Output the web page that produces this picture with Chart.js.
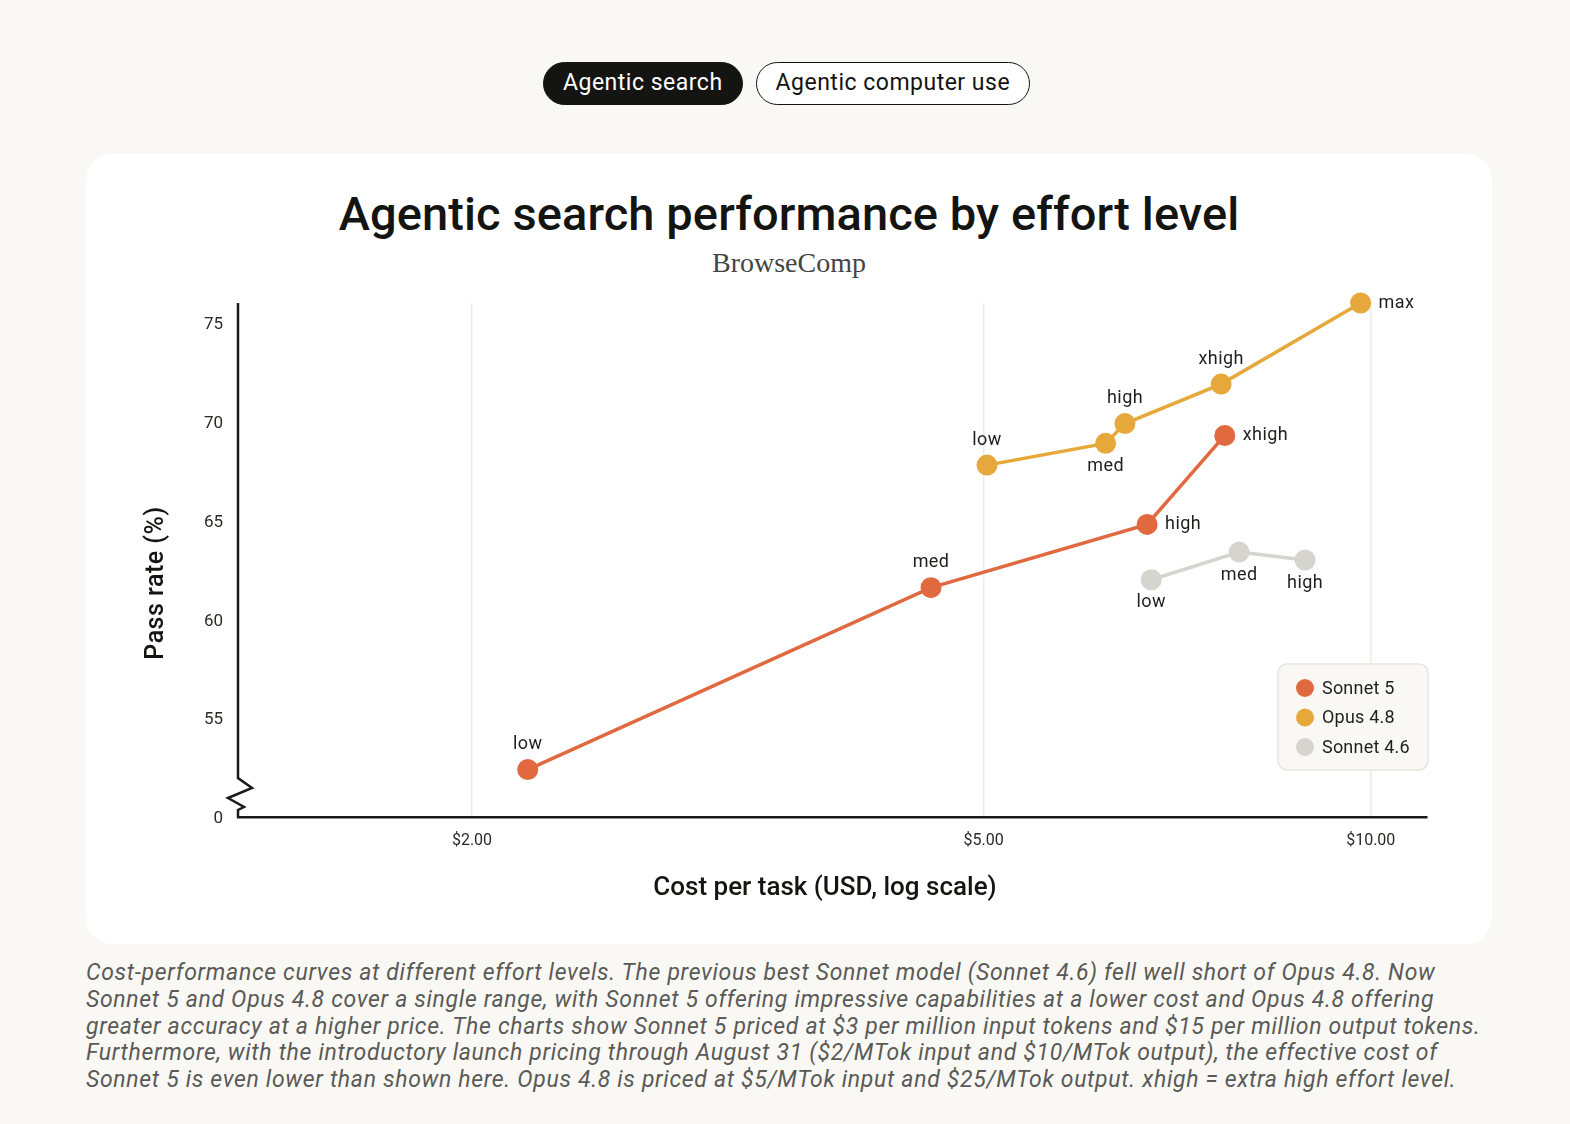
<!DOCTYPE html>
<html>
<head>
<meta charset="utf-8">
<script src="https://cdn.jsdelivr.net/npm/chart.js@4.4.1/dist/chart.umd.min.js"></script>
<style>
  html, body { margin: 0; padding: 0; }
  body { width: 1570px; height: 1124px; background: #f9f8f4; position: relative; overflow: hidden; font-family: Roboto, sans-serif; color: #141413; }
  .tabs { position: absolute; top: 62px; left: 543px; display: flex; gap: 13px; }
  .tab { height: 43px; box-sizing: border-box; border-radius: 22px; font-size: 23px; line-height: 40px; padding: 0 19px; border: 1.5px solid #141413; background: #fff; letter-spacing: 0.5px; }
  .tab.on { background: #141413; color: #fff; }
  .card { position: absolute; left: 86px; top: 154px; width: 1406px; height: 790px; background: #fff; border-radius: 26px; }
  .title { position: absolute; left: 0; width: 1578px; top: 190px; text-align: center; font-size: 47px; line-height: 47px; font-weight: 500; letter-spacing: 0.1px; }
  .sub { position: absolute; left: 0; width: 1578px; top: 249px; text-align: center; font-family: "Liberation Serif", serif; font-size: 28px; line-height: 28px; color: #444; }
  .caption { position: absolute; left: 86px; top: 960px; font-size: 23px; line-height: 26.75px; font-style: italic; color: #5a5a57; white-space: nowrap; letter-spacing: 0.68px; }
  #chart { position: absolute; left: 0; top: 0; }
</style>
</head>
<body>
<div class="tabs"><div class="tab on">Agentic search</div><div class="tab">Agentic computer use</div></div>
<div class="card"></div>
<div class="title">Agentic search performance by effort level</div>
<div class="sub">BrowseComp</div>
<div class="caption">Cost-performance curves at different effort levels. The previous best Sonnet model (Sonnet 4.6) fell well short of Opus 4.8. Now<br>Sonnet 5 and Opus 4.8 cover a single range, with Sonnet 5 offering impressive capabilities at a lower cost and Opus 4.8 offering<br>greater accuracy at a higher price. The charts show Sonnet 5 priced at $3 per million input tokens and $15 per million output tokens.<br>Furthermore, with the introductory launch pricing through August 31 ($2/MTok input and $10/MTok output), the effective cost of<br>Sonnet 5 is even lower than shown here. Opus 4.8 is priced at $5/MTok input and $25/MTok output. xhigh = extra high effort level.</div>
<canvas id="chart" width="1570" height="1124"></canvas>
<script>
// series
const seriesNames = ['Sonnet 5', 'Opus 4.8', 'Sonnet 4.6'];
const seriesColors = ['#e0693f', '#e6a83a', '#d6d4ce'];

const sonnet5Effort = ['low', 'med', 'high', 'xhigh'];
const sonnet5Cost = [2.21, 4.55, 6.70, 7.70];
const sonnet5Pass = [52.4, 61.6, 64.8, 69.3];

const opus48Effort = ['low', 'med', 'high', 'xhigh', 'max'];
const opus48Cost = [5.03, 6.22, 6.44, 7.65, 9.82];
const opus48Pass = [67.8, 68.9, 69.9, 71.9, 76.0];

const sonnet46Effort = ['low', 'med', 'high'];
const sonnet46Cost = [6.75, 7.90, 8.89];
const sonnet46Pass = [62.0, 63.4, 63.0];

// axes
const xTicks = [2, 5, 10];
const yTicks = [50, 55, 60, 65, 70, 75];
const yTickLabels = ['0', '55', '60', '65', '70', '75'];

// where each effort label sits: a = above, b = below, r = right
const labelSide = [
    ['a', 'a', 'r', 'r'],
    ['a', 'b', 'a', 'a', 'r'],
    ['b', 'b', 'b']
];

const efforts = [sonnet5Effort, opus48Effort, sonnet46Effort];
const costs = [sonnet5Cost, opus48Cost, sonnet46Cost];
const passes = [sonnet5Pass, opus48Pass, sonnet46Pass];

const datasets = seriesNames.map((name, i) => ({
    label: name,
    data: costs[i].map((c, j) => ({ x: c, y: passes[i][j] })),
    showLine: true,
    clip: false,
    borderColor: seriesColors[i],
    backgroundColor: seriesColors[i],
    pointBackgroundColor: seriesColors[i],
    pointBorderWidth: 0,
    pointRadius: 10.5,
    pointHoverRadius: 10.5,
    borderWidth: 3.5
}));

const decor = {
    id: 'decor',
    afterDatasetsDraw(chart) {
        const ctx = chart.ctx;
        ctx.save();
        ctx.font = '18px Roboto';
        ctx.letterSpacing = '0.4px';
        ctx.fillStyle = '#1f1f1e';
        ctx.textBaseline = 'middle';
        chart.data.datasets.forEach((ds, i) => {
            chart.getDatasetMeta(i).data.forEach((pt, j) => {
                const side = labelSide[i][j];
                const txt = efforts[i][j];
                if (side === 'r') {
                    ctx.textAlign = 'left';
                    ctx.fillText(txt, pt.x + 18, pt.y);
                } else {
                    ctx.textAlign = 'center';
                    ctx.fillText(txt, pt.x, side === 'a' ? pt.y - 25 : pt.y + 23);
                }
            });
        });
        ctx.restore();
    },
    afterDraw(chart) {
        const ctx = chart.ctx;
        const a = chart.chartArea;
        ctx.save();

        // y axis with break near the bottom
        ctx.strokeStyle = '#1a1a1a';
        ctx.lineWidth = 2.5;
        ctx.lineJoin = 'miter';
        ctx.beginPath();
        ctx.moveTo(a.left, a.top);
        ctx.lineTo(a.left, a.bottom - 39);
        ctx.lineTo(a.left + 14, a.bottom - 29);
        ctx.lineTo(a.left - 10, a.bottom - 19);
        ctx.lineTo(a.left + 6, a.bottom - 10);
        ctx.lineTo(a.left, a.bottom - 7);
        ctx.lineTo(a.left, a.bottom + 1);
        ctx.stroke();

        // axis titles
        ctx.fillStyle = '#141413';
        ctx.textAlign = 'center';
        ctx.textBaseline = 'middle';
        ctx.font = '500 26px Roboto';
        ctx.fillText('Cost per task (USD, log scale)', 825, 888);
        ctx.save();
        ctx.translate(157, 583);
        ctx.rotate(-Math.PI / 2);
        ctx.font = '500 25px Roboto';
        ctx.letterSpacing = '0.5px';
        ctx.fillText('Pass rate (%)', 0, 0);
        ctx.restore();

        // legend box
        const lx = 1278, ly = 664, lw = 150, lh = 106;
        ctx.beginPath();
        ctx.roundRect(lx, ly, lw, lh, 9);
        ctx.fillStyle = '#f9f8f4';
        ctx.fill();
        ctx.strokeStyle = '#e8e6df';
        ctx.lineWidth = 1.5;
        ctx.stroke();
        ctx.font = '18px Roboto';
        ctx.letterSpacing = '0.2px';
        ctx.textAlign = 'left';
        chart.data.datasets.forEach((ds, i) => {
            const cy = ly + 24 + i * 29.5;
            ctx.beginPath();
            ctx.arc(lx + 27, cy, 9, 0, Math.PI * 2);
            ctx.fillStyle = ds.borderColor;
            ctx.fill();
            ctx.fillStyle = '#1f1f1e';
            ctx.fillText(ds.label, lx + 44, cy + 1);
        });
        ctx.restore();
    }
};

new Chart(document.getElementById('chart'), {
    type: 'scatter',
    data: { datasets },
    plugins: [decor],
    options: {
        responsive: false,
        animation: false,
        events: [],
        layout: { padding: { left: 0, top: 303, right: 143, bottom: 0 } },
        plugins: { legend: { display: false }, tooltip: { enabled: false } },
        scales: {
            x: {
                type: 'logarithmic',
                min: 1.3154,
                max: 11.06,
                afterBuildTicks: s => { s.ticks = xTicks.map(v => ({ value: v })); },
                afterFit: s => { s.height = 307; },
                grid: { color: '#ecebe4', lineWidth: 1.5, drawTicks: false },
                border: { display: true, color: '#1a1a1a', width: 2.5 },
                ticks: {
                    padding: 14,
                    color: '#2a2a28',
                    font: { family: 'Roboto', size: 16 },
                    callback: v => '$' + Number(v).toFixed(2)
                }
            },
            y: {
                min: 50,
                max: 76,
                afterBuildTicks: s => { s.ticks = yTicks.map(v => ({ value: v })); },
                afterFit: s => { s.width = 238; },
                grid: { display: false, drawTicks: false },
                border: { display: false },
                ticks: {
                    padding: 15,
                    labelOffset: 2,
                    color: '#2a2a28',
                    font: { family: 'Roboto', size: 17 },
                    callback: (v, i) => yTickLabels[i]
                }
            }
        }
    }
});
</script>
</body>
</html>
